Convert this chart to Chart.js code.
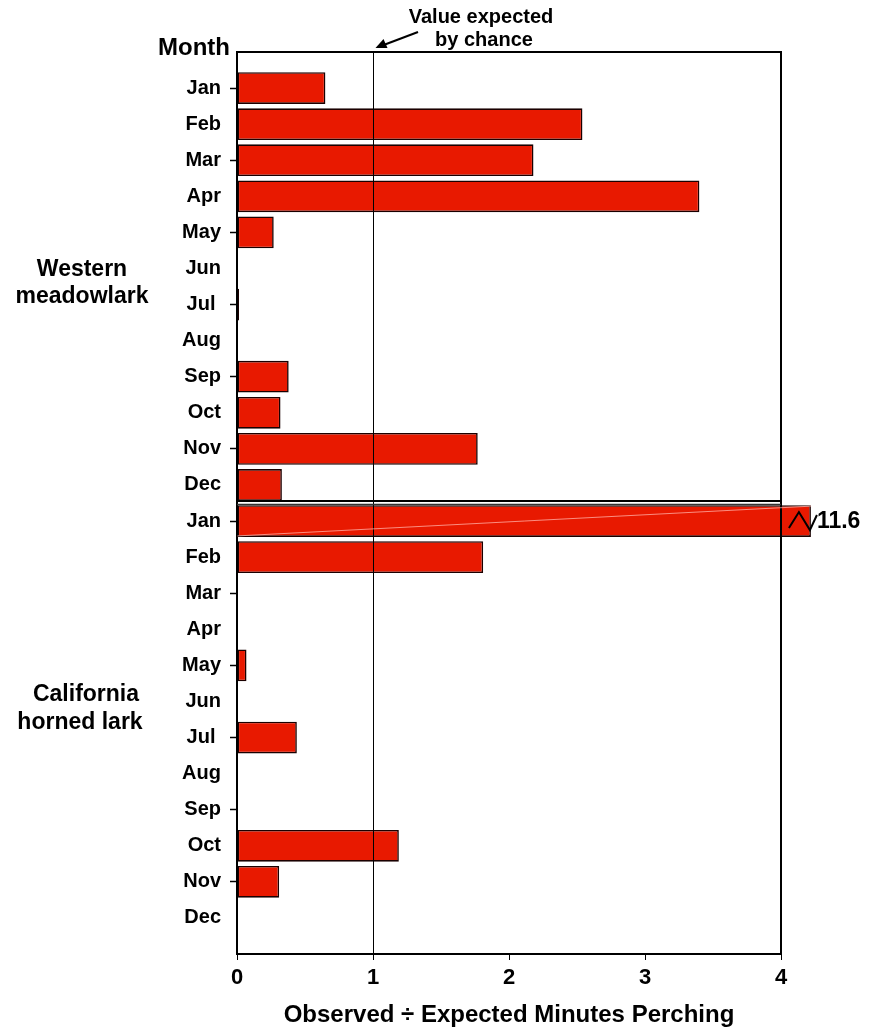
<!DOCTYPE html>
<html>
<head>
<meta charset="utf-8">
<script src="https://cdn.jsdelivr.net/npm/chart.js@4"></script>
<style>
  html, body { margin: 0; padding: 0; background: #fff; }
  #wrap { width: 871px; height: 1033px; }
</style>
</head>
<body>
<div id="wrap"><canvas id="birdChart" width="871" height="1033"></canvas></div>
<script>
// month labels (Jul has a trailing space in the original)
var months = ['Jan', 'Feb', 'Mar', 'Apr', 'May', 'Jun', 'Jul ', 'Aug', 'Sep', 'Oct', 'Nov', 'Dec'];
var species = [['Western', 'meadowlark'], ['California', 'horned lark']];

// observed / expected minutes perching
var westernValues = [0.65, 2.54, 2.18, 3.40, 0.27, 0, 0.015, 0, 0.38, 0.32, 1.77, 0.33];
var californiaValues = [11.6, 1.81, 0, 0, 0.07, 0, 0.44, 0, 0, 1.19, 0.31, 0];

var xTicks = [0, 1, 2, 3, 4];
var chanceValue = 1;
var axisBreakAt = 4.22; // bars above the axis are cut here

var FONT = "'Liberation Sans', Arial, sans-serif";

// padded category list: one empty slot above and below
var labels = [''].concat(months, months, ['']);
var allValues = westernValues.concat(californiaValues);
var plotted = [null];
for (var i = 0; i < allValues.length; i++) {
    var v = allValues[i];
    plotted.push(v === 0 ? null : Math.min(v, axisBreakAt));
}
plotted.push(null);

var extras = {
    id: 'extras',
    afterDatasetsDraw: function(chart) {
        var ctx = chart.ctx;
        var area = chart.chartArea;
        var xs = chart.scales.x;
        var ys = chart.scales.y;
        ctx.save();

        // expected-by-chance line
        var x1 = Math.round(xs.getPixelForValue(chanceValue)) + 0.5;
        ctx.strokeStyle = '#000';
        ctx.lineWidth = 1;
        ctx.beginPath();
        ctx.moveTo(x1, area.top);
        ctx.lineTo(x1, area.bottom);
        ctx.stroke();

        // frame
        ctx.lineWidth = 2;
        ctx.strokeRect(area.left, area.top, area.right - area.left, area.bottom - area.top);

        // double line between the two species
        var mid = (ys.getPixelForValue(12) + ys.getPixelForValue(13)) / 2;
        ctx.lineWidth = 2;
        ctx.strokeStyle = '#000';
        ctx.beginPath();
        ctx.moveTo(area.left, mid - 2);
        ctx.lineTo(area.right, mid - 2);
        ctx.stroke();
        ctx.lineWidth = 1.5;
        ctx.strokeStyle = '#333';
        ctx.beginPath();
        ctx.moveTo(area.left, mid + 1.5);
        ctx.lineTo(area.right, mid + 1.5);
        ctx.stroke();

        // broken bar: faint line, zigzag and true value
        var meta = chart.getDatasetMeta(0);
        for (var k = 0; k < allValues.length; k++) {
            if (allValues[k] <= axisBreakAt) continue;
            var bar = meta.data[k + 1];
            var yc = bar.y, h = bar.height;
            ctx.strokeStyle = 'rgba(255,170,160,0.8)';
            ctx.lineWidth = 1;
            ctx.beginPath();
            ctx.moveTo(bar.base, yc + h / 2 - 1);
            ctx.lineTo(bar.x, yc - h / 2 + 1);
            ctx.stroke();

            ctx.strokeStyle = '#000';
            ctx.lineWidth = 2;
            ctx.beginPath();
            ctx.moveTo(bar.x - 22, yc + 7);
            ctx.lineTo(bar.x - 12, yc - 9);
            ctx.lineTo(bar.x - 1, yc + 9);
            ctx.lineTo(bar.x + 6, yc - 6);
            ctx.stroke();

            ctx.fillStyle = '#000';
            ctx.font = 'bold 23px ' + FONT;
            ctx.textAlign = 'left';
            ctx.textBaseline = 'middle';
            ctx.fillText(String(allValues[k]), bar.x + 6, yc + 1);
        }

        // texts
        ctx.fillStyle = '#000';
        ctx.textBaseline = 'middle';
        ctx.font = 'bold 24px ' + FONT;
        ctx.textAlign = 'right';
        ctx.fillText('Month', area.left - 7, 48);

        ctx.font = 'bold 23px ' + FONT;
        ctx.textAlign = 'center';
        ctx.fillText(species[0][0], 82, 270);
        ctx.fillText(species[0][1], 82, 297);
        ctx.fillText(species[1][0], 86, 695);
        ctx.fillText(species[1][1], 80, 723);

        ctx.font = 'bold 20px ' + FONT;
        ctx.fillText('Value expected', 481, 17);
        ctx.fillText('by chance', 484, 40);

        // arrow to the line
        ctx.lineWidth = 2;
        ctx.beginPath();
        ctx.moveTo(418, 32);
        ctx.lineTo(381, 46);
        ctx.stroke();
        ctx.beginPath();
        ctx.moveTo(x1 + 2, 48);
        ctx.lineTo(x1 + 10, 39);
        ctx.lineTo(x1 + 14, 48);
        ctx.closePath();
        ctx.fill();

        ctx.restore();
    }
};

new Chart(document.getElementById('birdChart'), {
    type: 'bar',
    data: {
        labels: labels,
        datasets: [{
            data: plotted,
            backgroundColor: '#E81900',
            borderColor: '#1a0000',
            borderWidth: 1.6,
            borderSkipped: false,
            barPercentage: 0.88,
            categoryPercentage: 1,
            clip: false
        }]
    },
    options: {
        indexAxis: 'y',
        responsive: false,
        animation: false,
        layout: { padding: { top: 52, right: 90, left: 0, bottom: 0 } },
        plugins: { legend: { display: false }, tooltip: { enabled: false } },
        scales: {
            x: {
                type: 'linear',
                min: xTicks[0],
                max: xTicks[xTicks.length - 1],
                afterBuildTicks: function(scale) {
                    scale.ticks = xTicks.map(function(t) { return { value: t }; });
                },
                afterFit: function(scale) { scale.height = 79; },
                grid: { drawOnChartArea: false, tickLength: 6, tickColor: '#000', tickWidth: 1 },
                border: { color: '#000', width: 2 },
                ticks: { color: '#000', padding: 5, font: { family: FONT, size: 22, weight: 'bold' } },
                title: {
                    display: true,
                    text: 'Observed ÷ Expected Minutes Perching',
                    color: '#000',
                    font: { family: FONT, size: 24, weight: 'bold' },
                    padding: { top: 0, bottom: 3 }
                }
            },
            y: {
                type: 'category',
                offset: false,
                afterFit: function(scale) { scale.width = 237; },
                grid: {
                    offset: false,
                    drawOnChartArea: false,
                    tickLength: 7,
                    tickWidth: 1.5,
                    tickColor: function(c) {
                        return (c.index >= 1 && c.index <= 24 && (c.index - 1) % 2 === 0) ? '#000' : 'rgba(0,0,0,0)';
                    }
                },
                border: { color: '#000', width: 2 },
                ticks: {
                    color: '#000',
                    padding: 9,
                    autoSkip: false,
                    font: { family: FONT, size: 20, weight: 'bold' }
                }
            }
        }
    },
    plugins: [extras]
});
</script>
</body>
</html>
